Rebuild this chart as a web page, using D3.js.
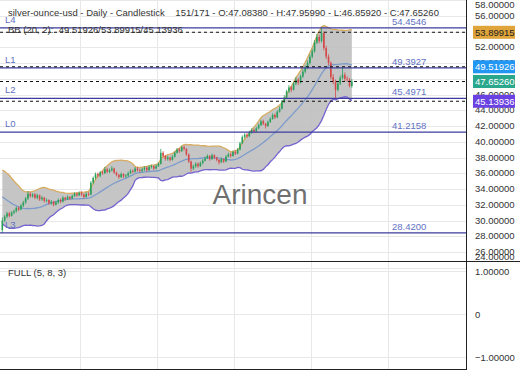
<!DOCTYPE html>
<html>
<head>
<meta charset="utf-8">
<script src="https://cdn.jsdelivr.net/npm/d3@7"></script>
<style>
body { margin: 0; background: #fff; }
text { font-family: "Liberation Sans", Arial, sans-serif; }
</style>
</head>
<body>
<div id="chart"></div>
<script>
// closes before the visible window, only used to seed BB(20)
var preCloses = [34.4, 34.8, 35.0, 34.7, 35.0, 34.6, 34.3, 34.0, 34.2, 33.8,
    33.5, 33.2, 33.3, 32.9, 32.5, 32.0, 31.5, 31.0, 30.3, 29.5];

var opens = [28.8, 30.0, 30.5, 30.9, 30.6, 31.0, 31.2, 31.6, 31.4, 31.9,
    32.3, 32.8, 33.4, 33.1, 33.3, 32.9, 33.2, 32.7, 32.9, 32.5,
    32.6, 32.2, 32.4, 32.0, 32.3, 32.6, 32.4, 32.9, 32.7, 33.0,
    32.8, 33.1, 33.4, 33.2, 33.5, 33.3, 33.0, 33.4, 33.3, 34.8,
    35.4, 35.9, 35.7, 36.1, 36.0, 36.5, 36.2, 36.4, 36.6, 36.1,
    35.8, 35.5, 35.9, 35.6, 35.7, 36.0, 36.3, 36.2, 36.6, 36.4,
    36.3, 36.5, 36.7, 36.4, 36.8, 36.9, 36.6, 36.9, 37.2, 38.6,
    38.2, 37.8, 38.0, 37.7, 38.1, 38.6, 39.0, 38.8, 39.3, 39.1,
    38.4, 37.5, 36.6, 36.9, 37.2, 36.9, 37.3, 37.6, 37.9, 38.2,
    37.8, 38.3, 38.0, 37.7, 37.4, 37.8, 37.5, 38.1, 38.4, 38.2,
    38.7, 38.5, 39.0, 39.8, 40.6, 40.9, 40.7, 41.2, 41.5, 41.3,
    41.7, 42.1, 42.6, 42.3, 42.0, 42.5, 42.9, 43.4, 43.1, 43.8,
    44.2, 45.1, 45.6, 46.4, 46.9, 46.6, 47.4, 47.9, 47.5, 48.3,
    48.9, 49.4, 50.0, 50.8, 51.5, 52.6, 53.3, 52.8, 53.8, 51.9,
    50.8, 50.0, 48.2, 47.6, 46.6, 47.4, 48.1, 48.5, 48.0, 47.9,
    47.0838];

var highs = [30.4, 30.7, 31.1, 31.1, 31.2, 31.4, 31.8, 31.8, 32.1, 32.5,
    33.0, 33.7, 33.6, 33.5, 33.5, 33.4, 33.3, 33.1, 33.0, 32.8,
    32.7, 32.6, 32.5, 32.5, 32.8, 32.8, 33.1, 33.0, 33.2, 33.1,
    33.3, 33.6, 33.6, 33.7, 33.7, 33.4, 33.6, 33.6, 35.0, 35.6,
    36.1, 36.1, 36.3, 36.3, 36.8, 36.7, 36.6, 36.9, 36.7, 36.2,
    35.9, 36.1, 36.0, 35.9, 36.2, 36.5, 36.5, 36.8, 36.8, 36.6,
    36.7, 36.9, 36.9, 37.0, 37.1, 37.0, 37.1, 37.4, 39.1, 38.8,
    38.3, 38.2, 38.1, 38.3, 38.8, 39.2, 39.2, 39.5, 39.5, 39.2,
    38.5, 37.6, 37.1, 37.4, 37.4, 37.5, 37.8, 38.1, 38.4, 38.3,
    38.5, 38.4, 38.1, 37.8, 38.0, 37.9, 38.3, 38.6, 38.6, 38.9,
    38.9, 39.2, 40.0, 40.8, 41.1, 41.1, 41.4, 41.7, 41.7, 41.9,
    42.3, 42.8, 42.8, 42.4, 42.7, 43.1, 43.6, 43.6, 44.0, 44.5,
    45.3, 45.9, 46.6, 47.2, 47.1, 47.6, 48.2, 48.1, 48.5, 49.2,
    49.7, 50.3, 51.1, 51.8, 52.9, 53.7, 53.6, 54.4546, 54.0, 52.2,
    51.1, 50.2, 48.6, 47.9, 47.7, 48.4, 49.3927, 48.8, 48.3, 48.1,
    47.9599];

var lows = [28.42, 29.8, 30.3, 30.4, 30.5, 30.8, 31.0, 31.2, 31.3, 31.7,
    32.1, 32.6, 32.9, 32.9, 32.7, 32.7, 32.5, 32.5, 32.3, 32.3,
    32.0, 32.0, 31.8, 31.9, 32.1, 32.2, 32.3, 32.5, 32.6, 32.6,
    32.7, 33.0, 33.0, 33.1, 33.1, 32.8, 32.9, 33.1, 33.2, 34.6,
    35.2, 35.5, 35.5, 35.8, 35.9, 36.0, 36.0, 36.2, 35.9, 35.6,
    35.3, 35.4, 35.4, 35.4, 35.5, 35.9, 36.0, 36.1, 36.2, 36.1,
    36.1, 36.3, 36.2, 36.3, 36.6, 36.4, 36.5, 36.8, 37.1, 38.0,
    37.6, 37.6, 37.5, 37.6, 38.0, 38.5, 38.6, 38.7, 38.9, 38.2,
    37.3, 36.2, 36.4, 36.7, 36.7, 36.8, 37.1, 37.5, 37.8, 37.6,
    37.7, 37.8, 37.5, 37.1, 37.3, 37.3, 37.4, 38.0, 38.0, 38.1,
    38.3, 38.4, 38.9, 39.7, 40.4, 40.5, 40.6, 41.0, 41.1, 41.2,
    41.6, 42.0, 42.1, 41.7, 41.9, 42.4, 42.8, 42.9, 43.0, 43.7,
    44.1, 44.9, 45.5, 46.2, 46.3, 46.5, 47.2, 47.2, 47.4, 48.1,
    48.7, 49.2, 49.8, 50.6, 51.3, 52.4, 52.5, 52.6, 51.6, 50.5,
    49.7, 47.9, 47.3, 45.4971, 46.4, 47.2, 47.9, 47.7, 47.6, 46.9,
    46.8592];

var closes = [30.0, 30.5, 30.9, 30.6, 31.0, 31.2, 31.6, 31.4, 31.9, 32.3,
    32.8, 33.4, 33.1, 33.3, 32.9, 33.2, 32.7, 32.9, 32.5, 32.6,
    32.2, 32.4, 32.0, 32.3, 32.6, 32.4, 32.9, 32.7, 33.0, 32.8,
    33.1, 33.4, 33.2, 33.5, 33.3, 33.0, 33.4, 33.3, 34.8, 35.4,
    35.9, 35.7, 36.1, 36.0, 36.5, 36.2, 36.4, 36.6, 36.1, 35.8,
    35.5, 35.9, 35.6, 35.7, 36.0, 36.3, 36.2, 36.6, 36.4, 36.3,
    36.5, 36.7, 36.4, 36.8, 36.9, 36.6, 36.9, 37.2, 38.6, 38.2,
    37.8, 38.0, 37.7, 38.1, 38.6, 39.0, 38.8, 39.3, 39.1, 38.4,
    37.5, 36.6, 36.9, 37.2, 36.9, 37.3, 37.6, 37.9, 38.2, 37.8,
    38.3, 38.0, 37.7, 37.4, 37.8, 37.5, 38.1, 38.4, 38.2, 38.7,
    38.5, 39.0, 39.8, 40.6, 40.9, 40.7, 41.2, 41.5, 41.3, 41.7,
    42.1, 42.6, 42.3, 42.0, 42.5, 42.9, 43.4, 43.1, 43.8, 44.2,
    45.1, 45.6, 46.4, 46.9, 46.6, 47.4, 47.9, 47.5, 48.3, 48.9,
    49.4, 50.0, 50.8, 51.5, 52.6, 53.3, 52.8, 53.8, 51.9, 50.8,
    50.0, 48.2, 47.6, 46.6, 47.4, 48.1, 48.5, 48.0, 47.9, 47.0838,
    47.6526];

var levelNames = ["L0", "L1", "L2", "L3", "L4"];
var levelValues = [41.2158, 49.3927, 45.4971, 28.42, 54.4546];

// BB (20, 2) values shown in the legend: middle / upper / lower
var bbLast = [49.51926, 53.89915, 45.13936];

var priceTicks = [24, 26, 28, 30, 32, 34, 36, 38, 40, 42, 44, 46, 48, 50, 52, 54, 56, 58];
var oscTicks = [1, 0, -1];
var gridBars = [33.3, 66.4, 99.5, 132.5, 165.6];

var title = "silver-ounce-usd - Daily - Candlestick";
var barInfo = "151/171 - O:47.08380 - H:47.95990 - L:46.85920 - C:47.65260";

var width = 520, height = 390,
    plotW = 466, mainH = 261, oscTop = 262, oscBottom = 369;

var x = d3.scaleLinear().domain([-1, 199]).range([0, plotW]);
var y = d3.scaleLinear().domain([24.86, 58]).range([mainH, 0]);
var yo = d3.scaleLinear().domain([-1.28, 1.21]).range([oscBottom, oscTop]);

// bollinger bands from the close series
var allCloses = preCloses.concat(closes);
var bands = closes.map(function (c, i) {
    var win = allCloses.slice(i + 1, i + 21);
    var m = d3.mean(win);
    var sd = Math.sqrt(d3.mean(win, function (v) { return (v - m) * (v - m); }));
    return { i: i, mid: m, up: m + 2 * sd, low: m - 2 * sd };
});

var svg = d3.select("#chart").append("svg")
    .attr("width", width).attr("height", height);

svg.append("rect").attr("width", width).attr("height", height).attr("fill", "#fff");

svg.append("defs").append("clipPath").attr("id", "clip")
    .append("rect").attr("width", plotW).attr("height", mainH);

// gridlines
var grid = svg.append("g").attr("stroke", "#e8e8e8").attr("stroke-width", 1);
grid.selectAll("line.h").data(priceTicks).enter().append("line")
    .attr("x1", 0).attr("x2", plotW)
    .attr("y1", function (d) { return Math.round(y(d)) + 0.5; })
    .attr("y2", function (d) { return Math.round(y(d)) + 0.5; });
grid.selectAll("line.o").data(oscTicks).enter().append("line")
    .attr("x1", 0).attr("x2", plotW)
    .attr("y1", function (d) { return Math.round(yo(d)) + 0.5; })
    .attr("y2", function (d) { return Math.round(yo(d)) + 0.5; });
grid.selectAll("line.v").data(gridBars).enter().append("line")
    .attr("x1", function (d) { return Math.round(x(d)) + 0.5; })
    .attr("x2", function (d) { return Math.round(x(d)) + 0.5; })
    .attr("y1", 0).attr("y2", oscBottom);

var main = svg.append("g").attr("clip-path", "url(#clip)");

// band fill and edges
main.append("path").datum(bands)
    .attr("fill", "#bfbfbf").attr("fill-opacity", 0.9)
    .attr("d", d3.area()
        .x(function (d) { return x(d.i); })
        .y0(function (d) { return y(d.low); })
        .y1(function (d) { return y(d.up); }));

var bandLines = [["up", "#d8ac62"], ["low", "#7563cf"], ["mid", "#7e9ccb"]];
bandLines.forEach(function (b) {
    main.append("path").datum(bands)
        .attr("fill", "none").attr("stroke", b[1]).attr("stroke-width", 1.3)
        .attr("d", d3.line()
            .x(function (d) { return x(d.i); })
            .y(function (d) { return y(d[b[0]]); }));
});

// candles
var candles = main.append("g").selectAll("g").data(closes).enter().append("g")
    .attr("stroke", function (d, i) { return d >= opens[i] ? "#2aa05c" : "#d5494a"; })
    .attr("fill", function (d, i) { return d >= opens[i] ? "#2aa05c" : "#d5494a"; });
candles.append("line")
    .attr("x1", function (d, i) { return x(i); })
    .attr("x2", function (d, i) { return x(i); })
    .attr("y1", function (d, i) { return y(highs[i]); })
    .attr("y2", function (d, i) { return y(lows[i]); })
    .attr("stroke-width", 0.8);
candles.append("rect")
    .attr("stroke", "none")
    .attr("x", function (d, i) { return x(i) - 0.8; })
    .attr("width", 1.6)
    .attr("y", function (d, i) { return y(Math.max(d, opens[i])); })
    .attr("height", function (d, i) { return Math.max(0.8, Math.abs(y(d) - y(opens[i]))); });

// level lines
var levels = svg.append("g");
levels.selectAll("line").data(levelValues).enter().append("line")
    .attr("x1", 0).attr("x2", plotW)
    .attr("y1", function (d) { return y(d); }).attr("y2", function (d) { return y(d); })
    .attr("stroke", "#3c3c9e").attr("stroke-width", 1.3);
levels.selectAll("text.n").data(levelValues).enter().append("text")
    .attr("x", 5).attr("y", function (d) { return y(d) - 5; })
    .attr("font-size", 9.5).attr("fill", "#5f72c4")
    .text(function (d, i) { return levelNames[i]; });
levels.selectAll("text.v").data(levelValues).enter().append("text")
    .attr("x", 392).attr("y", function (d) { return y(d) - 3; })
    .attr("font-size", 9.5).attr("fill", "#5f72c4")
    .text(function (d) { return d.toFixed(4); });

// dashed value lines
var dashed = bbLast.concat([closes[closes.length - 1]]);
svg.append("g").selectAll("line").data(dashed).enter().append("line")
    .attr("x1", 0).attr("x2", plotW)
    .attr("y1", function (d) { return y(d); }).attr("y2", function (d) { return y(d); })
    .attr("stroke", "#111").attr("stroke-width", 1.1)
    .attr("stroke-dasharray", "3,3");

// watermark
svg.append("text")
    .attr("x", 260).attr("y", 204)
    .attr("text-anchor", "middle")
    .attr("font-size", 28).attr("fill", "#555").attr("fill-opacity", 0.85)
    .text("Arincen");

// header
svg.append("text").attr("x", 8).attr("y", 16).attr("font-size", 9.5).attr("fill", "#333")
    .attr("xml:space", "preserve")
    .text(title + "    " + barInfo);
svg.append("text").attr("x", 8).attr("y", 33).attr("font-size", 9.5).attr("fill", "#333")
    .attr("xml:space", "preserve")
    .text("BB (20, 2):  " + bbLast.map(function (d) { return d.toFixed(5); }).join("/"));
svg.append("text").attr("x", 8).attr("y", 276).attr("font-size", 9.5).attr("fill", "#333")
    .text("FULL (5, 8, 3)");

// pane borders
svg.append("line").attr("x1", 0).attr("x2", width).attr("y1", 261.5).attr("y2", 261.5)
    .attr("stroke", "#222");
svg.append("line").attr("x1", 0).attr("x2", plotW).attr("y1", 369.5).attr("y2", 369.5)
    .attr("stroke", "#222");
svg.append("line").attr("x1", plotW + 0.5).attr("x2", plotW + 0.5).attr("y1", 0).attr("y2", 370)
    .attr("stroke", "#222");

// right price axis, labels at the edges are pulled inside
var yAxis = svg.append("g")
    .attr("transform", "translate(" + plotW + ",0)")
    .call(d3.axisRight(y).tickValues(priceTicks).tickSize(0).tickPadding(9)
        .tickFormat(d3.format(".5f")));
yAxis.select(".domain").remove();
yAxis.selectAll(".tick")
    .attr("transform", function (d) { return "translate(0," + Math.max(5, Math.min(257, y(d))) + ")"; });
yAxis.selectAll("text").attr("font-size", 9.5).attr("fill", "#333")
    .attr("font-family", "Liberation Sans, Arial, sans-serif");

var oAxis = svg.append("g")
    .attr("transform", "translate(" + plotW + ",0)")
    .call(d3.axisRight(yo).tickValues(oscTicks).tickSize(0).tickPadding(9)
        .tickFormat(function (d) { return d === 0 ? "0" : d3.format(".5f")(d); }));
oAxis.select(".domain").remove();
oAxis.selectAll("text").attr("font-size", 9.5).attr("fill", "#333")
    .attr("font-family", "Liberation Sans, Arial, sans-serif");

// value badges on the price axis
var badges = [
    { v: bbLast[1], bg: "#dfa43a", fg: "#222" },
    { v: bbLast[0], bg: "#2196f3", fg: "#fff" },
    { v: closes[closes.length - 1], bg: "#2ba88c", fg: "#fff" },
    { v: bbLast[2], bg: "#6a42e2", fg: "#fff" }
];
var bg = svg.append("g").selectAll("g").data(badges).enter().append("g")
    .attr("transform", function (d) { return "translate(473," + y(d.v) + ")"; });
bg.append("rect").attr("x", 0).attr("y", -6.5).attr("width", 42).attr("height", 13)
    .attr("fill", function (d) { return d.bg; });
bg.append("text").attr("x", 2).attr("dy", "0.35em")
    .attr("font-size", 9.5).attr("fill", function (d) { return d.fg; })
    .text(function (d) { return d.v.toFixed(5); });
</script>
</body>
</html>
